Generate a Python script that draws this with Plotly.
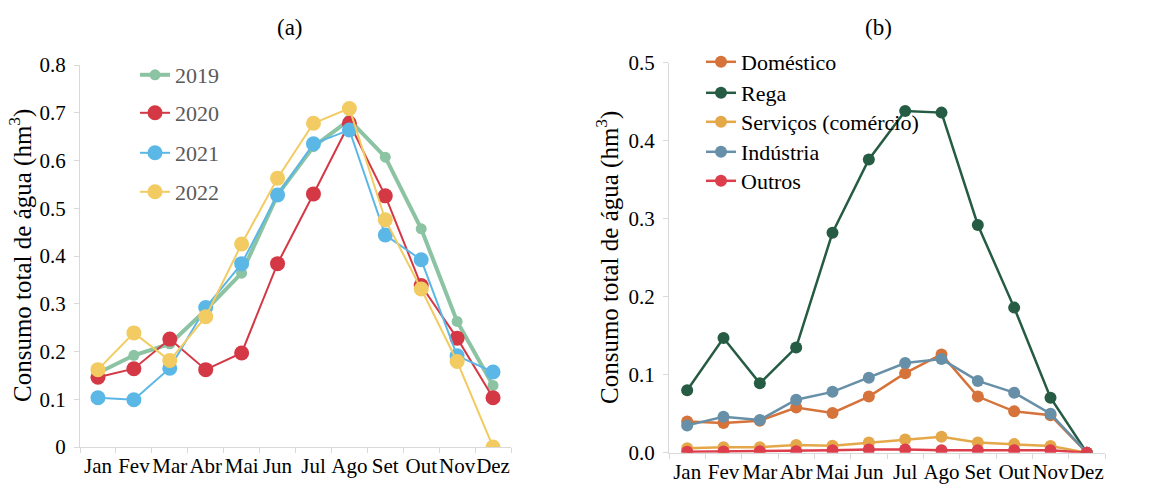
import plotly.graph_objects as go

months = ["Jan", "Fev", "Mar", "Abr", "Mai", "Jun", "Jul", "Ago", "Set", "Out", "Nov", "Dez"]

# Panel (a): total consumption per year
y2019 = [0.155, 0.192, 0.216, 0.287, 0.364, 0.528, 0.629, 0.685, 0.607, 0.457, 0.263, 0.129]
y2020 = [0.146, 0.164, 0.226, 0.162, 0.197, 0.384, 0.530, 0.678, 0.526, 0.338, 0.228, 0.103]
y2021 = [0.103, 0.099, 0.165, 0.292, 0.384, 0.528, 0.635, 0.664, 0.444, 0.392, 0.191, 0.157]
y2022 = [0.162, 0.239, 0.181, 0.273, 0.425, 0.563, 0.678, 0.709, 0.476, 0.331, 0.179, 0.000]

# Panel (b): consumption per sector
domestico = [0.040, 0.038, 0.041, 0.058, 0.051, 0.072, 0.102, 0.126, 0.072, 0.053, 0.048, 0.000]
rega = [0.080, 0.147, 0.089, 0.135, 0.282, 0.376, 0.438, 0.436, 0.292, 0.186, 0.0705, 0.000]
servicos = [0.0056, 0.007, 0.007, 0.010, 0.009, 0.013, 0.017, 0.0205, 0.013, 0.011, 0.0085, 0.000]
industria = [0.035, 0.046, 0.042, 0.068, 0.078, 0.096, 0.115, 0.120, 0.092, 0.077, 0.050, 0.000]
outros = [0.0013, 0.0015, 0.002, 0.002, 0.003, 0.004, 0.004, 0.003, 0.003, 0.003, 0.003, 0.000]

FONT = "Liberation Serif, serif"
W, H = 1164, 487

fig = go.Figure()

left_series = [
    ("2019", y2019, "#8CC3A3", 4, 11),
    ("2020", y2020, "#D43845", 2, 15),
    ("2021", y2021, "#5BB7E6", 2, 15),
    ("2022", y2022, "#F2CB62", 2, 15),
]
right_series = [
    ("Doméstico", domestico, "#D6733A", 2.5, 12),
    ("Rega", rega, "#265B44", 2.5, 12),
    ("Serviços (comércio)", servicos, "#E5A849", 2.5, 12),
    ("Indústria", industria, "#6790A8", 2.5, 12),
    ("Outros", outros, "#DC3E4B", 2.5, 12),
]

legend_layout = {}
idx = 1
left_leg_y = [75, 113, 153, 192]
for (name, vals, col, lw, ms), ly in zip(left_series, left_leg_y):
    lname = "legend" if idx == 1 else f"legend{idx}"
    fig.add_trace(go.Scatter(x=months, y=vals, name=name, mode="lines+markers",
                             line=dict(color=col, width=lw),
                             marker=dict(color=col, size=ms),
                             xaxis="x", yaxis="y", legend=lname))
    legend_layout[lname] = dict(x=135 / W, y=1 - ly / H, xanchor="left", yanchor="middle",
                                bgcolor="rgba(0,0,0,0)",
                                font=dict(family=FONT, size=22, color="#595959"))
    idx += 1

right_leg_y = [62, 93, 122, 152, 181]
for (name, vals, col, lw, ms), ly in zip(right_series, right_leg_y):
    lname = f"legend{idx}"
    fig.add_trace(go.Scatter(x=months, y=vals, name=name, mode="lines+markers",
                             line=dict(color=col, width=lw),
                             marker=dict(color=col, size=ms),
                             xaxis="x2", yaxis="y2", legend=lname))
    legend_layout[lname] = dict(x=701 / W, y=1 - ly / H, xanchor="left", yanchor="middle",
                                bgcolor="rgba(0,0,0,0)",
                                font=dict(family=FONT, size=22, color="black"))
    idx += 1

xtickfont = dict(family=FONT, size=21, color="black")
ytickfont = dict(family=FONT, size=21, color="black")
axis_common = dict(showgrid=False, zeroline=False, showline=True, linecolor="#D9D9D9",
                   linewidth=1, ticks="outside", tickcolor="#D9D9D9", ticklen=5)

fig.update_layout(
    width=W, height=H,
    margin=dict(l=0, r=0, t=0, b=0, autoexpand=False),
    paper_bgcolor="white", plot_bgcolor="white",
    xaxis=dict(domain=[80 / W, 511 / W], anchor="y", type="category",
               range=[-0.5, 11.5], tickson="boundaries", tickangle=0,
               tickfont=xtickfont, **axis_common),
    yaxis=dict(domain=[(H - 447) / H, (H - 65) / H], anchor="x", range=[0, 0.8],
               dtick=0.1, ticklabelstandoff=4, tickfont=ytickfont, **axis_common),
    xaxis2=dict(domain=[669 / W, 1105 / W], anchor="y2", type="category",
                range=[-0.5, 11.5], tickson="boundaries", tickangle=0,
                tickfont=xtickfont, **axis_common),
    yaxis2=dict(domain=[(H - 452.7) / H, (H - 62.7) / H], anchor="x2", range=[0, 0.5],
                dtick=0.1, tickformat=".1f", ticklabelstandoff=4, tickfont=ytickfont,
                **axis_common),
    showlegend=True,
    **legend_layout,
    annotations=[
        dict(text="(a)", x=290 / W, y=1 - 28 / H, xref="paper", yref="paper",
             xanchor="center", yanchor="middle",
             showarrow=False, font=dict(family=FONT, size=23, color="black")),
        dict(text="(b)", x=878 / W, y=1 - 28 / H, xref="paper", yref="paper",
             xanchor="center", yanchor="middle",
             showarrow=False, font=dict(family=FONT, size=23, color="black")),
        dict(text="Consumo total de água (hm<sup>3</sup>)", x=20 / W, y=1 - 256 / H,
             xref="paper", yref="paper", textangle=-90, showarrow=False,
             xanchor="center", yanchor="middle",
             font=dict(family=FONT, size=25, color="black")),
        dict(text="Consumo total de água (hm<sup>3</sup>)", x=607 / W, y=1 - 258 / H,
             xref="paper", yref="paper", textangle=-90, showarrow=False,
             xanchor="center", yanchor="middle",
             font=dict(family=FONT, size=25, color="black")),
    ],
)

fig.write_html("out.html", config={"displayModeBar": False},
               post_script="document.body.style.margin='0';")
